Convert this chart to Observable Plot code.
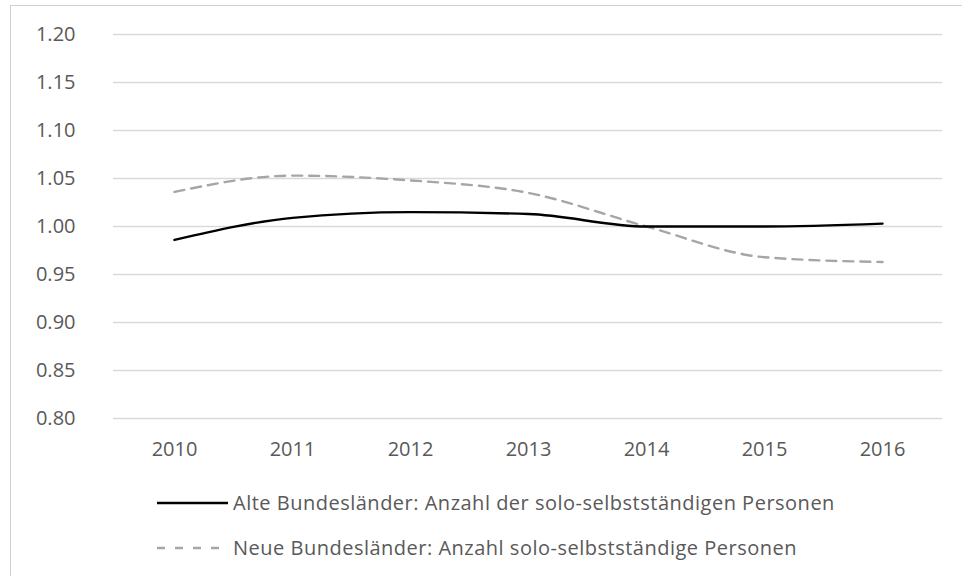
<!DOCTYPE html>
<html>
<head>
<meta charset="utf-8">
<script src="https://cdn.jsdelivr.net/npm/d3@7"></script>
<script src="https://cdn.jsdelivr.net/npm/@observablehq/plot@0.6"></script>
<style>
  html, body { margin: 0; padding: 0; background: #fff; }
  #wrap { position: relative; width: 962px; height: 576px; overflow: hidden; font-family: "Open Sans", sans-serif; color: #595959; }
  #frame { position: absolute; left: 10px; top: 5px; width: 1000px; height: 1000px; border-left: 1px solid #d0d0d0; border-top: 1px solid #d0d0d0; }
  #chart { position: absolute; left: 0; top: 0; }
  .leg { position: absolute; left: 157px; display: flex; align-items: center; font-size: 20px; letter-spacing: 0.5px; white-space: nowrap; line-height: 1; }
  .leg svg { margin-right: 5px; }
</style>
</head>
<body>
<div id="wrap">
  <div id="frame"></div>
  <div id="chart"></div>
  <div class="leg" id="leg1" style="top:493px"></div>
  <div class="leg" id="leg2" style="top:538px"></div>
</div>
<script>
const years = ["2010", "2011", "2012", "2013", "2014", "2015", "2016"];
const alteValues = [0.986, 1.009, 1.015, 1.013, 1.000, 1.000, 1.003];
const neueValues = [1.036, 1.053, 1.048, 1.035, 1.000, 0.968, 0.963];
const yTicks = [0.80, 0.85, 0.90, 0.95, 1.00, 1.05, 1.10, 1.15, 1.20];
const seriesNames = [
  "Alte Bundesländer: Anzahl der solo-selbstständigen Personen",
  "Neue Bundesländer: Anzahl solo-selbstständige Personen"
];

const alte = years.map((y, i) => ({year: y, value: alteValues[i]}));
const neue = years.map((y, i) => ({year: y, value: neueValues[i]}));

const chart = Plot.plot({
  width: 962,
  height: 476,
  marginLeft: 113,
  marginRight: 20,
  marginTop: 34,
  marginBottom: 58,
  style: {fontFamily: "Open Sans, sans-serif", fontSize: "20px", color: "#595959", background: "transparent"},
  x: {type: "point", domain: years, padding: 0.5, label: null},
  y: {domain: [0.8, 1.2], label: null},
  marks: [
    Plot.gridY(yTicks, {stroke: "#d9d9d9", strokeOpacity: 1, strokeWidth: 1.3}),
    Plot.axisY(yTicks, {tickSize: 0, tickPadding: 38, tickFormat: d3.format(".2f"), label: null, fill: "#595959"}),
    Plot.axisX({tickSize: 0, tickPadding: 23, label: null, fill: "#595959"}),
    Plot.line(neue, {x: "year", y: "value", stroke: "#a6a6a6", strokeWidth: 2.4, strokeDasharray: "10,7", curve: "monotone-x"}),
    Plot.line(alte, {x: "year", y: "value", stroke: "#000000", strokeWidth: 2.4, curve: "monotone-x"})
  ]
});
document.getElementById("chart").appendChild(chart);

function legendRow(id, name, color, dash) {
  const el = document.getElementById(id);
  el.innerHTML = `<svg width="71" height="6"><line x1="0" x2="71" y1="3" y2="3" stroke="${color}" stroke-width="2.4" ${dash ? `stroke-dasharray="${dash}"` : ""}/></svg><span>${name}</span>`;
}
legendRow("leg1", seriesNames[0], "#000000", null);
legendRow("leg2", seriesNames[1], "#a6a6a6", "8,10");
</script>
</body>
</html>
